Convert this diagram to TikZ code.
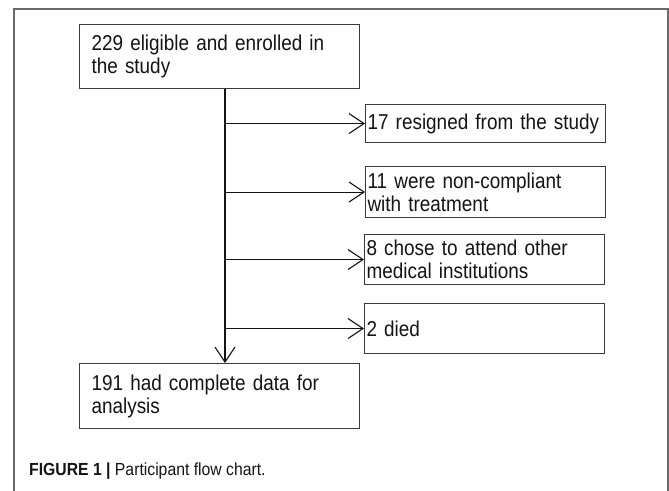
\documentclass[tikz,border=0pt]{standalone}
\usepackage{fontspec}
\setmainfont{Liberation Sans}
\newfontfamily\boxfont[FakeStretch=0.88]{Liberation Sans}
\newfontfamily\capfont[FakeStretch=0.9]{Liberation Sans}
\usetikzlibrary{arrows.meta}
\definecolor{boxgray}{HTML}{3A3A3A}
\definecolor{framegray}{HTML}{6A6A6A}
\definecolor{ink}{HTML}{141414}
\begin{document}
\begin{tikzpicture}[x=1pt,y=-1pt,
  box/.style={draw=boxgray, line width=1.1pt, align=left, text=ink,
    font=\boxfont\fontsize{21.5}{23}\selectfont, anchor=north west, inner ysep=0pt},
  leftbox/.style={box, text width=256pt, inner xsep=12pt, minimum width=280pt},
  sidebox/.style={box, text width=236pt, inner xsep=2pt, minimum width=240pt},
  arr/.style={line width=1.1pt, draw=ink,
    -{Straight Barb[length=15pt,width=20pt,line width=1.1pt]}}
]
\useasboundingbox (0,0) rectangle (669,490);
\fill[white] (0,0) rectangle (669,490);
\draw[framegray, line width=1.5pt] (14,500) -- (14,9) -- (668,9) -- (668,500);

\node[leftbox, minimum height=64pt] (a) at (79,24) {229 eligible and enrolled in\\the study};
\node[sidebox, minimum height=38pt] (b1) at (365,104) {17 resigned from the study};
\node[sidebox, minimum height=51pt] (b2) at (365,166) {11 were non-compliant\\with treatment};
\node[sidebox, minimum height=50pt] (b3) at (364,234) {8 chose to attend other\\medical institutions};
\node[sidebox, minimum height=50pt] (b4) at (364,303) {2 died};
\node[leftbox, minimum height=65pt] (e) at (79,363) {191 had complete data for\\analysis};

\coordinate (spine) at (225,0);
\draw[arr] (a.south -| spine) -- (e.north -| spine);
\foreach \b in {b1,b2,b3,b4} {
  \draw[arr] (spine |- \b.west) -- (\b.west);
}

\node[anchor=base west, inner sep=0pt, text=ink, font=\capfont\fontsize{17.5}{21}\selectfont] (cap) at (29,475)
  {\textbf{FIGURE 1 |} Participant flow chart.};
\end{tikzpicture}
\end{document}
